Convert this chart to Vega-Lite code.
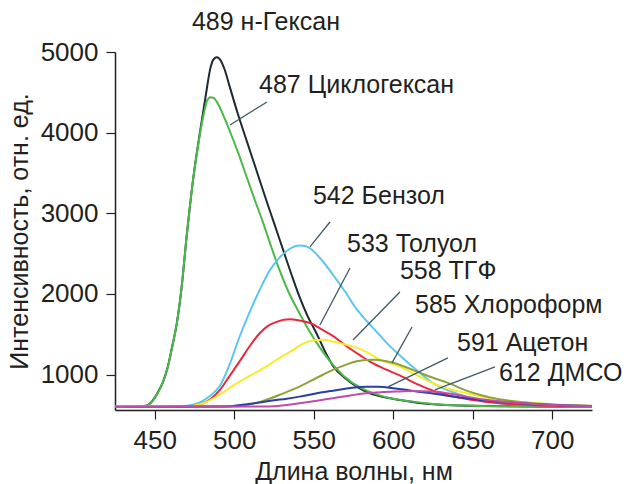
{
  "$schema": "https://vega.github.io/schema/vega-lite/v6.json",
  "width": 477,
  "height": 358,
  "autosize": {"type": "none"},
  "padding": {"left": 115, "top": 52, "right": 35, "bottom": 74},
  "background": "white",
  "config": {
    "view": {"stroke": null},
    "font": "Liberation Sans",
    "axis": {
      "grid": false,
      "domainColor": "#231f20",
      "tickColor": "#231f20",
      "domainWidth": 1.5,
      "tickWidth": 1.2,
      "tickSize": 9,
      "labelFont": "Liberation Sans",
      "labelFontSize": 26,
      "labelColor": "#231f20",
      "titleFont": "Liberation Sans",
      "titleFontSize": 25,
      "titleFontWeight": "normal",
      "titleColor": "#231f20",
      "labelPadding": 8
    }
  },
  "datasets": {
    "curves": [
      {"s":"H","x":425,"y":600},{"s":"H","x":440,"y":602},{"s":"H","x":445,"y":615},{"s":"H","x":448,"y":660},{"s":"H","x":452,"y":780},{"s":"H","x":455,"y":900},{"s":"H","x":458,"y":1080},{"s":"H","x":461,"y":1350},{"s":"H","x":464,"y":1650},{"s":"H","x":467,"y":2100},{"s":"H","x":470,"y":2700},{"s":"H","x":474,"y":3400},{"s":"H","x":478,"y":3950},{"s":"H","x":482,"y":4450},{"s":"H","x":485,"y":4800},{"s":"H","x":487,"y":4910},{"s":"H","x":489,"y":4935},{"s":"H","x":491,"y":4910},{"s":"H","x":494,"y":4780},{"s":"H","x":497,"y":4580},{"s":"H","x":502,"y":4250},{"s":"H","x":508,"y":3888},{"s":"H","x":514,"y":3530},{"s":"H","x":520,"y":3170},{"s":"H","x":525,"y":2880},{"s":"H","x":531,"y":2530},{"s":"H","x":536,"y":2240},{"s":"H","x":541,"y":1966},{"s":"H","x":546,"y":1730},{"s":"H","x":552,"y":1500},{"s":"H","x":557,"y":1290},{"s":"H","x":562,"y":1110},{"s":"H","x":570,"y":950},{"s":"H","x":577,"y":850},{"s":"H","x":585,"y":770},{"s":"H","x":594,"y":720},{"s":"H","x":604,"y":685},{"s":"H","x":615,"y":650},{"s":"H","x":630,"y":625},{"s":"H","x":650,"y":612},{"s":"H","x":675,"y":605},{"s":"H","x":700,"y":600},{"s":"H","x":725,"y":598},

      {"s":"C","x":425,"y":598},{"s":"C","x":440,"y":600},{"s":"C","x":445,"y":613},{"s":"C","x":448,"y":655},{"s":"C","x":452,"y":775},{"s":"C","x":455,"y":895},{"s":"C","x":458,"y":1075},{"s":"C","x":461,"y":1345},{"s":"C","x":464,"y":1650},{"s":"C","x":467,"y":2100},{"s":"C","x":470,"y":2700},{"s":"C","x":474,"y":3400},{"s":"C","x":478,"y":3930},{"s":"C","x":481,"y":4250},{"s":"C","x":483,"y":4400},{"s":"C","x":485,"y":4440},{"s":"C","x":487,"y":4430},{"s":"C","x":490,"y":4350},{"s":"C","x":493,"y":4220},{"s":"C","x":498,"y":3980},{"s":"C","x":503,"y":3720},{"s":"C","x":508,"y":3440},{"s":"C","x":513,"y":3160},{"s":"C","x":518,"y":2890},{"s":"C","x":523,"y":2600},{"s":"C","x":528,"y":2320},{"s":"C","x":534,"y":2030},{"s":"C","x":541,"y":1760},{"s":"C","x":546,"y":1580},{"s":"C","x":552,"y":1390},{"s":"C","x":560,"y":1170},{"s":"C","x":569,"y":980},{"s":"C","x":580,"y":830},{"s":"C","x":594,"y":726},{"s":"C","x":610,"y":670},{"s":"C","x":625,"y":635},{"s":"C","x":650,"y":612},{"s":"C","x":675,"y":604},{"s":"C","x":700,"y":600},{"s":"C","x":725,"y":598},

      {"s":"B","x":425,"y":602},{"s":"B","x":460,"y":602},{"s":"B","x":470,"y":612},{"s":"B","x":478,"y":650},{"s":"B","x":485,"y":740},{"s":"B","x":491,"y":860},{"s":"B","x":497,"y":1120},{"s":"B","x":503,"y":1450},{"s":"B","x":510,"y":1790},{"s":"B","x":516,"y":2049},{"s":"B","x":522,"y":2280},{"s":"B","x":529,"y":2462},{"s":"B","x":535,"y":2560},{"s":"B","x":541,"y":2600},{"s":"B","x":545,"y":2590},{"s":"B","x":548,"y":2560},{"s":"B","x":555,"y":2420},{"s":"B","x":562,"y":2240},{"s":"B","x":570,"y":2020},{"s":"B","x":577,"y":1810},{"s":"B","x":583,"y":1670},{"s":"B","x":590,"y":1520},{"s":"B","x":596,"y":1390},{"s":"B","x":604,"y":1240},{"s":"B","x":615,"y":1050},{"s":"B","x":625,"y":892},{"s":"B","x":635,"y":800},{"s":"B","x":646,"y":726},{"s":"B","x":656,"y":680},{"s":"B","x":667,"y":644},{"s":"B","x":688,"y":620},{"s":"B","x":705,"y":610},{"s":"B","x":725,"y":602},

      {"s":"T","x":425,"y":603},{"s":"T","x":470,"y":603},{"s":"T","x":480,"y":640},{"s":"T","x":491,"y":809},{"s":"T","x":497,"y":980},{"s":"T","x":504,"y":1181},{"s":"T","x":510,"y":1360},{"s":"T","x":516,"y":1512},{"s":"T","x":521,"y":1600},{"s":"T","x":527,"y":1656},{"s":"T","x":535,"y":1686},{"s":"T","x":541,"y":1670},{"s":"T","x":548,"y":1636},{"s":"T","x":555,"y":1560},{"s":"T","x":562,"y":1480},{"s":"T","x":570,"y":1360},{"s":"T","x":579,"y":1240},{"s":"T","x":587,"y":1140},{"s":"T","x":596,"y":1057},{"s":"T","x":604,"y":990},{"s":"T","x":615,"y":880},{"s":"T","x":625,"y":800},{"s":"T","x":635,"y":740},{"s":"T","x":650,"y":685},{"s":"T","x":667,"y":645},{"s":"T","x":688,"y":620},{"s":"T","x":705,"y":610},{"s":"T","x":725,"y":602},

      {"s":"F","x":425,"y":600},{"s":"F","x":470,"y":605},{"s":"F","x":480,"y":640},{"s":"F","x":490,"y":740},{"s":"F","x":499,"y":860},{"s":"F","x":510,"y":985},{"s":"F","x":520,"y":1098},{"s":"F","x":528,"y":1200},{"s":"F","x":537,"y":1305},{"s":"F","x":543,"y":1380},{"s":"F","x":550,"y":1425},{"s":"F","x":556,"y":1432},{"s":"F","x":562,"y":1410},{"s":"F","x":568,"y":1380},{"s":"F","x":575,"y":1346},{"s":"F","x":583,"y":1280},{"s":"F","x":592,"y":1181},{"s":"F","x":604,"y":1098},{"s":"F","x":615,"y":990},{"s":"F","x":625,"y":892},{"s":"F","x":635,"y":820},{"s":"F","x":646,"y":768},{"s":"F","x":657,"y":720},{"s":"F","x":667,"y":685},{"s":"F","x":688,"y":650},{"s":"F","x":705,"y":625},{"s":"F","x":725,"y":610},

      {"s":"X","x":425,"y":600},{"s":"X","x":500,"y":605},{"s":"X","x":510,"y":630},{"s":"X","x":520,"y":685},{"s":"X","x":530,"y":760},{"s":"X","x":541,"y":850},{"s":"X","x":552,"y":960},{"s":"X","x":562,"y":1057},{"s":"X","x":570,"y":1120},{"s":"X","x":577,"y":1165},{"s":"X","x":583,"y":1180},{"s":"X","x":588,"y":1182},{"s":"X","x":594,"y":1170},{"s":"X","x":600,"y":1145},{"s":"X","x":608,"y":1090},{"s":"X","x":617,"y":1020},{"s":"X","x":625,"y":960},{"s":"X","x":634,"y":900},{"s":"X","x":646,"y":800},{"s":"X","x":656,"y":740},{"s":"X","x":665,"y":700},{"s":"X","x":677,"y":665},{"s":"X","x":690,"y":640},{"s":"X","x":705,"y":622},{"s":"X","x":725,"y":612},

      {"s":"A","x":425,"y":597},{"s":"A","x":495,"y":602},{"s":"A","x":504,"y":622},{"s":"A","x":515,"y":650},{"s":"A","x":525,"y":680},{"s":"A","x":533,"y":700},{"s":"A","x":541,"y":726},{"s":"A","x":552,"y":768},{"s":"A","x":562,"y":800},{"s":"A","x":572,"y":830},{"s":"A","x":583,"y":848},{"s":"A","x":591,"y":848},{"s":"A","x":600,"y":830},{"s":"A","x":608,"y":810},{"s":"A","x":615,"y":790},{"s":"A","x":625,"y":765},{"s":"A","x":635,"y":735},{"s":"A","x":646,"y":706},{"s":"A","x":657,"y":680},{"s":"A","x":667,"y":662},{"s":"A","x":688,"y":635},{"s":"A","x":705,"y":620},{"s":"A","x":725,"y":608},

      {"s":"D","x":425,"y":598},{"s":"D","x":520,"y":603},{"s":"D","x":530,"y":615},{"s":"D","x":541,"y":644},{"s":"D","x":552,"y":675},{"s":"D","x":562,"y":706},{"s":"D","x":573,"y":740},{"s":"D","x":583,"y":768},{"s":"D","x":593,"y":782},{"s":"D","x":604,"y":790},{"s":"D","x":612,"y":795},{"s":"D","x":625,"y":788},{"s":"D","x":635,"y":765},{"s":"D","x":646,"y":726},{"s":"D","x":657,"y":690},{"s":"D","x":667,"y":665},{"s":"D","x":688,"y":635},{"s":"D","x":705,"y":620},{"s":"D","x":725,"y":610}
    ],
    "leaders": [
      {"x":520.6,"y":4380,"x2":497.3,"y2":4095},
      {"x":560.2,"y":2892,"x2":547.6,"y2":2582},
      {"x":572.8,"y":2322,"x2":553.9,"y2":1615},
      {"x":604.2,"y":2024,"x2":574.7,"y2":1429},
      {"x":611.8,"y":1590,"x2":599.2,"y2":1144},
      {"x":634.4,"y":1206,"x2":596.7,"y2":846},
      {"x":664.0,"y":1094,"x2":626.2,"y2":809}
    ],
    "labels": [
      {"t":"489 н-Гексан","x":473.4,"y":5372},
      {"t":"487 Циклогексан","x":515.6,"y":4591},
      {"t":"542 Бензол","x":549.5,"y":3214},
      {"t":"533 Толуол","x":570.9,"y":2619},
      {"t":"558 ТГФ","x":604.2,"y":2284},
      {"t":"585 Хлороформ","x":613.7,"y":1863},
      {"t":"591 Ацетон","x":640.1,"y":1392},
      {"t":"612 ДМСО","x":666.5,"y":1020}
    ]
  },
  "layer": [
    {
      "data": {"name": "curves"},
      "mark": {"type": "line", "strokeWidth": 2, "interpolate": "monotone"},
      "encoding": {
        "x": {"field": "x", "type": "quantitative", "scale": {"domain": [425, 725], "nice": false, "zero": false},
              "axis": {"values": [450, 500, 550, 600, 650, 700], "format": "d", "title": "Длина волны, нм", "titlePadding": 6}},
        "y": {"field": "y", "type": "quantitative", "scale": {"domain": [560, 5000], "nice": false, "zero": false},
              "axis": {"values": [1000, 2000, 3000, 4000, 5000], "format": "d", "title": "Интенсивность, отн. ед.", "titlePadding": 8}},
        "color": {"field": "s", "type": "nominal", "legend": null,
                  "scale": {"domain": ["H","C","B","T","F","X","A","D"],
                            "range": ["#1b2a33","#4cb848","#5cc6ec","#e8283c","#f7ec2c","#8ea23c","#2b3ea6","#c24aa8"]}}
      }
    },
    {
      "data": {"name": "leaders"},
      "mark": {"type": "rule", "color": "#3e5a66", "strokeWidth": 1.3},
      "encoding": {
        "x": {"field": "x", "type": "quantitative"},
        "y": {"field": "y", "type": "quantitative"},
        "x2": {"field": "x2"},
        "y2": {"field": "y2"}
      }
    },
    {
      "data": {"name": "labels"},
      "mark": {"type": "text", "align": "left", "baseline": "middle", "font": "Liberation Sans", "fontSize": 25, "color": "#231f20"},
      "encoding": {
        "x": {"field": "x", "type": "quantitative"},
        "y": {"field": "y", "type": "quantitative"},
        "text": {"field": "t"}
      }
    }
  ]
}
